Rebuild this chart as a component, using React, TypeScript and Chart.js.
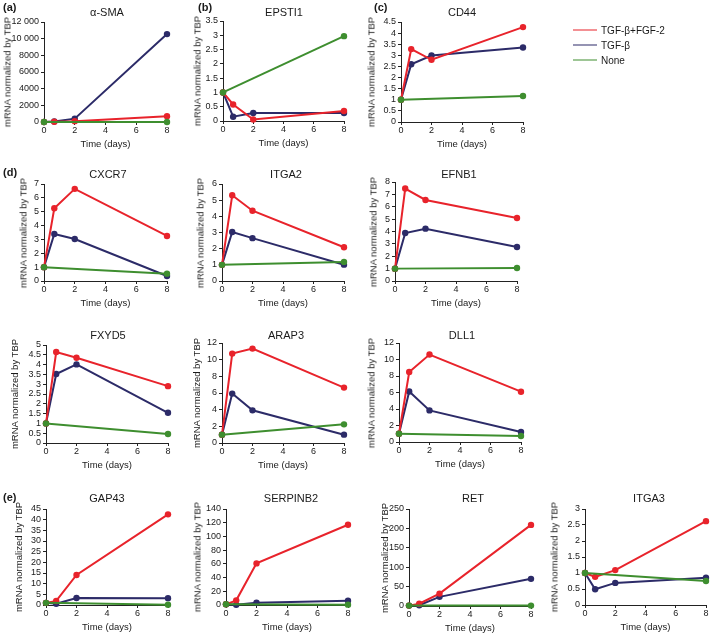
import React, { useEffect, useRef } from "react";
import { Chart, registerables } from "chart.js";

Chart.register(...registerables);

// ---------- data ----------
const DAYS = [0, 0.67, 2, 8];
const X_TICKS = [0, 2, 4, 6, 8];
const SERIES = ["TGF-β+FGF-2", "TGF-β", "None"];

const SMA_FGF = [1, 30, 100, 700];
const SMA_TGF = [1, 60, 400, 10550];
const SMA_NONE = [1, null, null, 1];

const EPSTI1_FGF = [1, 0.58, 0.05, 0.35];
const EPSTI1_TGF = [1, 0.15, 0.28, 0.28];
const EPSTI1_NONE = [1, null, null, 2.97];

const CD44_FGF = [1, 3.28, 2.8, 4.27];
const CD44_TGF = [1, 2.6, 2.99, 3.35];
const CD44_NONE = [1, null, null, 1.17];

const CXCR7_FGF = [1, 5.25, 6.65, 3.25];
const CXCR7_TGF = [1, 3.39, 3.03, 0.36];
const CXCR7_NONE = [1, null, null, 0.53];

const ITGA2_FGF = [1, 5.3, 4.35, 2.09];
const ITGA2_TGF = [1, 3.03, 2.65, 1.01];
const ITGA2_NONE = [1, null, null, 1.18];

const EFNB1_FGF = [1, 7.47, 6.55, 5.09];
const EFNB1_TGF = [1, 3.88, 4.23, 2.75];
const EFNB1_NONE = [1, null, null, 1.05];

const FXYD5_FGF = [1, 4.64, 4.35, 2.9];
const FXYD5_TGF = [1, 3.52, 4.01, 1.54];
const FXYD5_NONE = [1, null, null, 0.46];

const ARAP3_FGF = [1, 10.73, 11.33, 6.65];
const ARAP3_TGF = [1, 5.93, 3.92, 1.0];
const ARAP3_NONE = [1, null, null, 2.24];

const DLL1_FGF = [1, 8.48, 10.6, 6.1];
const DLL1_TGF = [1, 6.13, 3.83, 1.21];
const DLL1_NONE = [1, null, null, 0.73];

const GAP43_FGF = [1, 1.9, 14.06, 42.5];
const GAP43_TGF = [1, 0.6, 3.3, 3.2];
const GAP43_NONE = [1, null, null, 0.1];

const SERPINB2_FGF = [1, 6.8, 60.7, 117];
const SERPINB2_TGF = [1, 0.2, 3.4, 6.3];
const SERPINB2_NONE = [1, null, null, 0.5];

const RET_FGF = [1, 6, 32, 209];
const RET_TGF = [1, 2, 23.6, 70];
const RET_NONE = [1, null, null, 1];

const ITGA3_FGF = [1, 0.88, 1.09, 2.62];
const ITGA3_TGF = [1, 0.49, 0.69, 0.85];
const ITGA3_NONE = [1, null, null, 0.75];

// ---------- style / layout ----------
const RED = "#e8232b";
const NAVY = "#2c2b68";
const GREEN = "#3e8e2f";
const COLORS = [RED, NAVY, GREEN];
const ORDERS = [1, 2, 0];
const FONT = "'Liberation Sans', Arial, sans-serif";
const TEXT = "#1a1a1a";
const AXIS = "#222";
const Y_TITLE = "mRNA normalized by TBP";
const X_TITLE = "Time (days)";

const YW = 40; // y-scale box width
const PT = 8; // top padding
const XH = 32; // x-scale box height

type Panel = {
  gene: string;
  data: (number | null)[][];
  yMax: number;
  yStep: number;
  l: number; t: number; r: number; b: number;
  tx: number; ty: number; yx: number; pr: number;
};

const PANELS: Panel[] = [
  { gene: "α-SMA", data: [SMA_FGF, SMA_TGF, SMA_NONE], yMax: 12000, yStep: 2000, l: 44, t: 22, r: 167, b: 122, tx: 107, ty: 12, yx: 7, pr: 8 },
  { gene: "EPSTI1", data: [EPSTI1_FGF, EPSTI1_TGF, EPSTI1_NONE], yMax: 3.5, yStep: 0.5, l: 223, t: 21, r: 344, b: 121, tx: 284, ty: 12, yx: 197, pr: 8 },
  { gene: "CD44", data: [CD44_FGF, CD44_TGF, CD44_NONE], yMax: 4.5, yStep: 0.5, l: 401, t: 22, r: 523, b: 122, tx: 462, ty: 12, yx: 371, pr: 8 },
  { gene: "CXCR7", data: [CXCR7_FGF, CXCR7_TGF, CXCR7_NONE], yMax: 7, yStep: 1, l: 44, t: 184, r: 167, b: 281, tx: 108, ty: 174, yx: 23, pr: 8 },
  { gene: "ITGA2", data: [ITGA2_FGF, ITGA2_TGF, ITGA2_NONE], yMax: 6, yStep: 1, l: 222, t: 184, r: 344, b: 281, tx: 286, ty: 174, yx: 200, pr: 8 },
  { gene: "EFNB1", data: [EFNB1_FGF, EFNB1_TGF, EFNB1_NONE], yMax: 8, yStep: 1, l: 395, t: 182, r: 517, b: 281, tx: 459, ty: 174, yx: 373, pr: 8 },
  { gene: "FXYD5", data: [FXYD5_FGF, FXYD5_TGF, FXYD5_NONE], yMax: 5, yStep: 0.5, l: 46, t: 345, r: 168, b: 443, tx: 108, ty: 335, yx: 14, pr: 8 },
  { gene: "ARAP3", data: [ARAP3_FGF, ARAP3_TGF, ARAP3_NONE], yMax: 12, yStep: 2, l: 222, t: 343, r: 344, b: 443, tx: 286, ty: 335, yx: 196, pr: 8 },
  { gene: "DLL1", data: [DLL1_FGF, DLL1_TGF, DLL1_NONE], yMax: 12, yStep: 2, l: 399, t: 343, r: 521, b: 442, tx: 462, ty: 335, yx: 371, pr: 8 },
  { gene: "GAP43", data: [GAP43_FGF, GAP43_TGF, GAP43_NONE], yMax: 45, yStep: 5, l: 46, t: 509, r: 168, b: 605, tx: 107, ty: 498, yx: 18, pr: 8 },
  { gene: "SERPINB2", data: [SERPINB2_FGF, SERPINB2_TGF, SERPINB2_NONE], yMax: 140, yStep: 20, l: 226, t: 509, r: 348, b: 605, tx: 291, ty: 498, yx: 197, pr: 8 },
  { gene: "RET", data: [RET_FGF, RET_TGF, RET_NONE], yMax: 250, yStep: 50, l: 409, t: 509, r: 531, b: 606, tx: 473, ty: 498, yx: 384, pr: 8 },
  { gene: "ITGA3", data: [ITGA3_FGF, ITGA3_TGF, ITGA3_NONE], yMax: 3, yStep: 0.5, l: 585, t: 509, r: 706, b: 605, tx: 649, ty: 498, yx: 554, pr: 4 },
];

const PANEL_LETTERS = [
  { text: "(a)", x: 3, y: 7 },
  { text: "(b)", x: 198, y: 7 },
  { text: "(c)", x: 374, y: 7 },
  { text: "(d)", x: 3, y: 172 },
  { text: "(e)", x: 3, y: 497 },
];

function fmt(v: number): string {
  const s = String(Math.round(v * 1000) / 1000);
  if (Math.abs(v) >= 10000) return s.replace(/\B(?=(\d{3})+(?!\d))/g, " ");
  return s;
}

function PanelChart({ p }: { p: Panel }) {
  const ref = useRef<HTMLCanvasElement | null>(null);
  const w = YW + (p.r - p.l) + p.pr;
  const h = PT + (p.b - p.t) + XH;
  useEffect(() => {
    if (!ref.current) return;
    const tickFont = { family: FONT, size: 9 };
    const chart = new Chart(ref.current, {
      type: "line",
      data: {
        datasets: p.data.map((vals, si) => ({
          label: SERIES[si],
          data: DAYS.map((x, i) => ({ x, y: vals[i] })).filter((d) => d.y !== null) as any,
          borderColor: COLORS[si],
          backgroundColor: COLORS[si],
          pointBackgroundColor: COLORS[si],
          pointBorderColor: COLORS[si],
          borderWidth: 2,
          pointRadius: 3.2,
          pointHoverRadius: 3.2,
          pointBorderWidth: 0,
          tension: 0,
          clip: false as any,
          order: ORDERS[si],
        })),
      },
      options: {
        animation: false,
        responsive: false,
        maintainAspectRatio: false,
        devicePixelRatio: 1,
        events: [],
        layout: { padding: { top: PT, right: p.pr, left: 0, bottom: 0 } },
        plugins: { legend: { display: false }, tooltip: { enabled: false }, title: { display: false } },
        scales: {
          x: {
            type: "linear",
            min: 0,
            max: 8,
            afterBuildTicks: (s: any) => {
              s.ticks = X_TICKS.map((v) => ({ value: v }));
            },
            afterFit: (s: any) => {
              s.height = XH;
            },
            ticks: { font: tickFont, color: TEXT, padding: 0, maxRotation: 0, autoSkip: false, callback: (v: any) => fmt(Number(v)) },
            grid: { drawOnChartArea: false, drawTicks: true, tickLength: 3, color: AXIS },
            border: { display: true, color: AXIS, width: 1 },
            title: { display: true, text: X_TITLE, font: { family: FONT, size: 9.5 }, color: TEXT, padding: { top: 0, bottom: 4 } },
          },
          y: {
            type: "linear",
            min: 0,
            max: p.yMax,
            afterFit: (s: any) => {
              s.width = YW;
            },
            ticks: { stepSize: p.yStep, font: tickFont, color: TEXT, padding: 2, autoSkip: false, callback: (v: any) => fmt(Number(v)) },
            grid: { drawOnChartArea: false, drawTicks: true, tickLength: 3, color: AXIS },
            border: { display: true, color: AXIS, width: 1 },
          },
        },
      } as any,
    });
    return () => chart.destroy();
  }, [p]);
  return (
    <>
      <canvas
        ref={ref}
        width={w}
        height={h}
        style={{ position: "absolute", left: p.l - YW, top: p.t - PT, width: w, height: h }}
      />
      <div
        style={{
          position: "absolute",
          left: p.tx,
          top: p.ty,
          transform: "translate(-50%, -50%)",
          fontSize: 11,
          whiteSpace: "nowrap",
          color: TEXT,
        }}
      >
        {p.gene}
      </div>
      <div
        style={{
          position: "absolute",
          left: p.yx,
          top: (p.t + p.b) / 2,
          transform: "translate(-50%, -50%) rotate(-90deg)",
          fontSize: 9.5,
          whiteSpace: "nowrap",
          color: TEXT,
        }}
      >
        {Y_TITLE}
      </div>
    </>
  );
}

export default function App() {
  return (
    <div
      style={{
        position: "absolute",
        left: 0,
        top: 0,
        width: 710,
        height: 636,
        overflow: "hidden",
        background: "#fff",
        fontFamily: FONT,
      }}
    >
      {PANELS.map((p) => (
        <PanelChart key={p.gene} p={p} />
      ))}
      {PANEL_LETTERS.map((l) => (
        <div
          key={l.text}
          style={{
            position: "absolute",
            left: l.x,
            top: l.y,
            transform: "translateY(-50%)",
            fontSize: 11,
            fontWeight: "bold",
            color: TEXT,
          }}
        >
          {l.text}
        </div>
      ))}
      {SERIES.map((s, i) => (
        <div key={s} style={{ position: "absolute", left: 573, top: [30, 45, 60][i], transform: "translateY(-50%)", display: "flex", alignItems: "center" }}>
          <div style={{ width: 24, height: 1.5, background: COLORS[i], marginRight: 4 }} />
          <span style={{ fontSize: 10, color: TEXT, whiteSpace: "nowrap" }}>{s}</span>
        </div>
      ))}
    </div>
  );
}
